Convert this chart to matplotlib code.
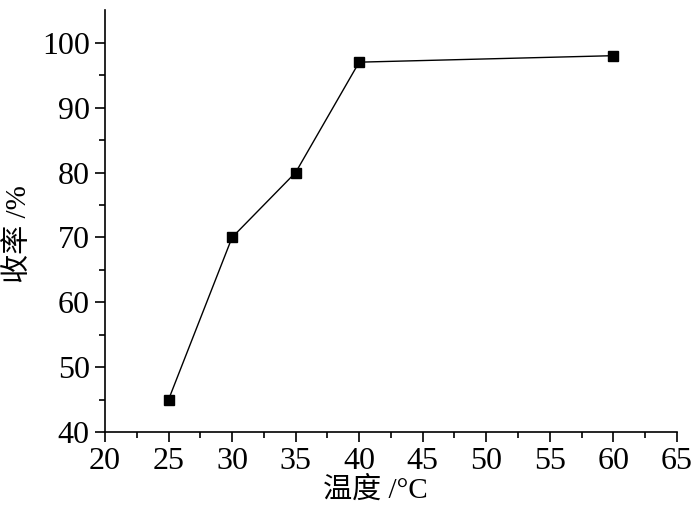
import numpy as np
import matplotlib.pyplot as plt

# temperature vs yield
temperature = [25, 30, 35, 40, 60]
yield_pct = [45, 70, 80, 97, 98]

plt.rcParams['font.family'] = ['Liberation Serif', 'Noto Sans CJK SC']

fig = plt.figure(figsize=(7, 5.12), dpi=100)
ax = fig.add_axes([0.15, 0.156, 0.817, 0.824])

ax.plot(temperature, yield_pct, color='black', linewidth=1,
        marker='s', markersize=7.5, markerfacecolor='black')

ax.set_xlim(20, 65)
ax.set_ylim(40, 105)
ax.set_xticks(np.arange(20, 66, 5))
ax.set_yticks(np.arange(40, 101, 10))
ax.set_xticks(np.arange(22.5, 65, 5), minor=True)
ax.set_yticks(np.arange(45, 105, 10), minor=True)

ax.spines['top'].set_visible(False)
ax.spines['right'].set_visible(False)
for s in ('left', 'bottom'):
    ax.spines[s].set_linewidth(1.2)

ax.tick_params(which='major', direction='out', length=7, width=1.2, labelsize=23, pad=4)
ax.tick_params(which='minor', direction='out', length=4, width=1.2)

ax.set_xlabel('温度 /°C', fontsize=21)
ax.set_ylabel('收率 /%', fontsize=21)
ax.xaxis.set_label_coords(0.472, -0.105)
ax.yaxis.set_label_coords(-0.127, 0.47)

fig.savefig('out.png', dpi=100)
